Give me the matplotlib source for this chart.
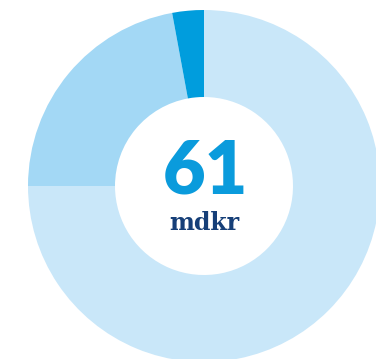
import matplotlib
matplotlib.use("Agg")
import matplotlib.pyplot as plt

labels = ["Del A", "Del B", "Del C"]
values = [75.0, 22.1, 2.9]
colors = ["#c9e7f9", "#a3d8f5", "#009ddd"]
center_value = "61"
center_unit = "mdkr"

W, H = 376, 359
fig = plt.figure(figsize=(W / 100, H / 100), dpi=100)
ax = fig.add_axes([0, 0, 1, 1])
cx, cy = 204, H - 186
R, r = 176, 89
ax.pie(values, colors=colors, startangle=90, counterclock=False,
       center=(cx, cy), radius=R,
       wedgeprops=dict(width=R - r, edgecolor="none", linewidth=0))
ax.set_xlim(0, W)
ax.set_ylim(0, H)
ax.set_aspect("equal")
ax.axis("off")

ax.text(cx + 1, H - 172, center_value, ha="center", va="center",
        fontsize=53, fontweight="heavy", family=["Lato", "DejaVu Sans"], color="#0a9bdc")
ax.text(cx, H - 223, center_unit, ha="center", va="center",
        fontsize=17, fontweight="bold", family=["DejaVu Serif"], color="#163f78")

fig.savefig("out.png", dpi=100)
